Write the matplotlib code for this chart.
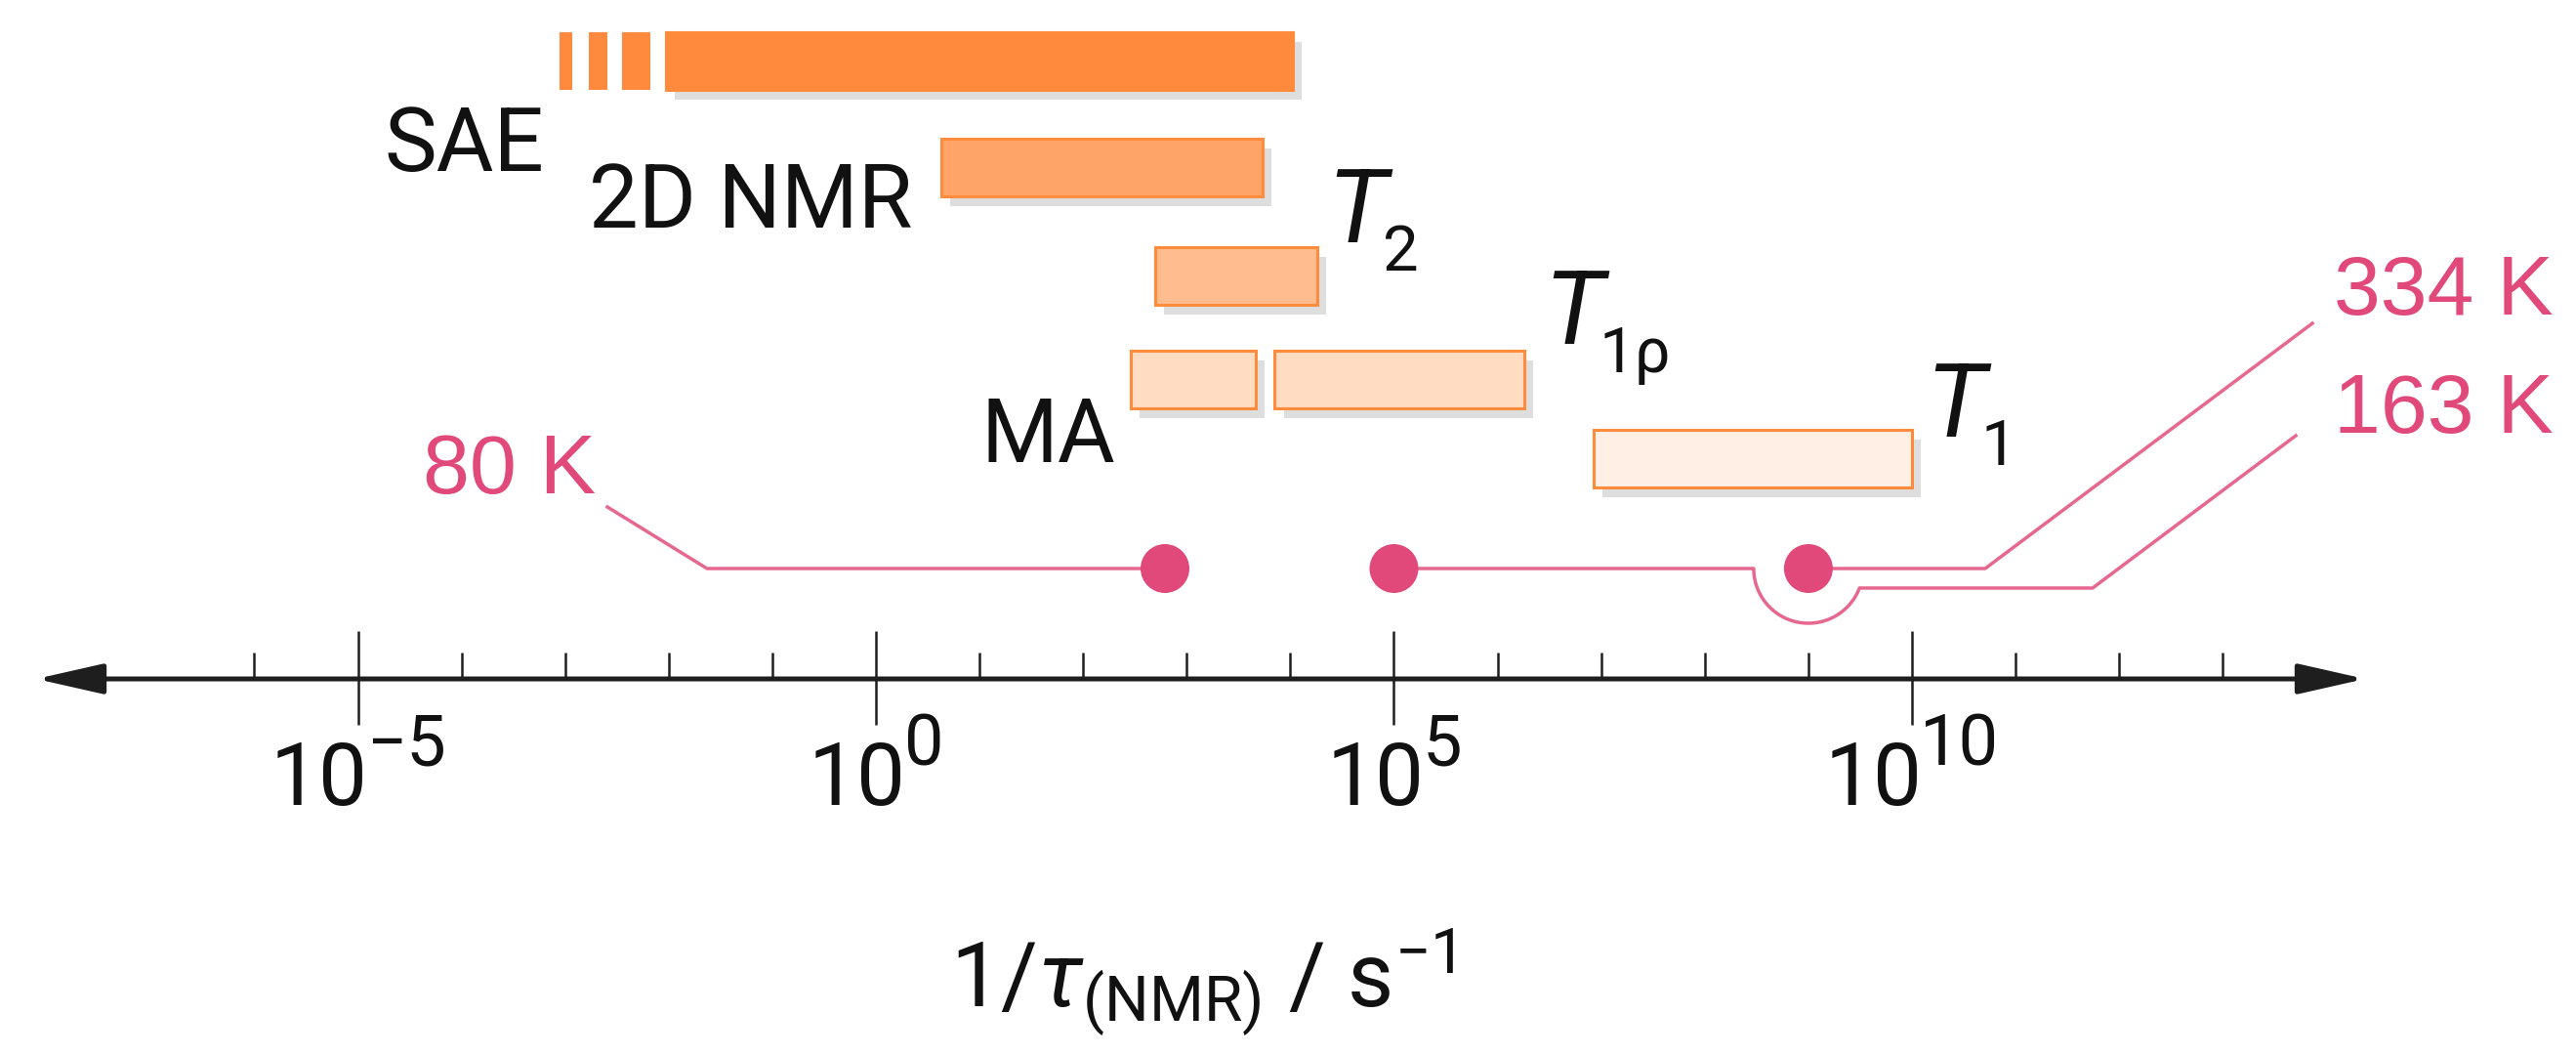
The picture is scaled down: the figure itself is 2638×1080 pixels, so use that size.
import matplotlib
matplotlib.use('Agg')
import matplotlib.pyplot as plt
import matplotlib.patheffects as pe
import numpy as np

plt.rcParams['font.family'] = ['Roboto', 'DejaVu Sans']
plt.rcParams['mathtext.fontset'] = 'custom'
plt.rcParams['mathtext.rm'] = 'Roboto'
plt.rcParams['mathtext.it'] = 'Roboto:italic'
plt.rcParams['mathtext.bf'] = 'Roboto:bold'

# accessible rate windows, log10(1/tau / s^-1)
methods = ['SAE', 'SAE', 'SAE', 'SAE', '2D NMR', 'T2', 'MA', 'MA', 'T1']
lo_exp = [-3.05, -2.77, -2.45, -2.03, 0.63, 2.70, 2.46, 3.85, 6.93]
hi_exp = [-2.93, -2.59, -2.18, 4.02, 3.73, 4.26, 3.67, 6.26, 10.0]
dashed = [True, True, True, False, False, False, False, False, False]

# exchange rate at each temperature, log10
temps = ['80 K', '163 K', '334 K']
rate_exp = [2.79, 5.0, 9.0]

major_exp = [-5, 0, 5, 10]
minor_exp = [-6, -4, -3, -2, -1, 1, 2, 3, 4, 6, 7, 8, 9, 11, 12, 13]

# ---- layout (pixel rows, px along the axis) ----
W, H = 2638, 1080
X0 = 897        # px of 10^0
PX_DEC = 106.1  # px per decade
def dec(px):
    return (px - X0) / PX_DEC

row_y = {'SAE': 62, '2D NMR': 171.5, 'T2': 282, 'MA': 388.5, 'T1': 469}
bar_h = 59
fills = {'SAE': '#ff8a3d', '2D NMR': '#ffa468', 'T2': '#ffbc8e',
         'MA': '#ffdcc2', 'T1': '#ffefe5'}
edge = '#ff8c3c'
pink = '#e0497a'
pink_line = '#e6688f'
ink = '#111111'
axis_col = '#1e1e1e'
axis_y = 695
dot_y = 582

fig = plt.figure(figsize=(W / 100, H / 100), dpi=100)
ax = fig.add_axes([0, 0, 1, 1])
ax.set_xscale('log')
ax.set_xlim(10 ** dec(0), 10 ** dec(W))
ax.set_ylim(H, 0)
ax.axis('off')

# bars
shadow = [pe.SimplePatchShadow(offset=(6.5, -7.2), shadow_rgbFace='#dedede', alpha=1.0), pe.Normal()]
for m, lo, hi, d in zip(methods, lo_exp, hi_exp, dashed):
    b = ax.barh(row_y[m], 10 ** hi - 10 ** lo, left=10 ** lo, height=bar_h,
                color=fills[m], edgecolor=fills[m] if d else edge,
                linewidth=0 if d else 2.2, zorder=3)
    if not d:
        b[0].set_path_effects(shadow)

# axis with arrows
ax.annotate('', xy=(10 ** dec(2422), axis_y), xytext=(10 ** dec(37), axis_y),
            arrowprops=dict(arrowstyle='<|-|>,head_length=4.2,head_width=0.95',
                            mutation_scale=10, lw=3.6, color=axis_col,
                            shrinkA=0, shrinkB=0), zorder=4)
ax.vlines([10.0 ** e for e in major_exp], 646, 742, colors=axis_col, lw=1.8, zorder=4)
ax.vlines([10.0 ** e for e in minor_exp], 668, axis_y, colors=axis_col, lw=1.8, zorder=4)

# tick labels 10^n, centred on the tick
base_y, sup_rise, gap = 824, 40, -2
fig.canvas.draw()
r = fig.canvas.get_renderer()
for e in major_exp:
    base = ax.annotate('10', (10.0 ** e, base_y), xytext=(0, 0), textcoords='offset pixels',
                       ha='left', va='baseline', fontsize=64, color=ink)
    sup = ax.annotate(str(e).replace('-', '\u2212'), (10.0 ** e, base_y), xytext=(0, sup_rise),
                      textcoords='offset pixels', ha='left', va='baseline',
                      fontsize=52, color=ink)
    w1 = base.get_window_extent(r).width
    w2 = sup.get_window_extent(r).width
    left = -(w1 + gap + w2) / 2
    base.xyann = (left, 0)
    sup.xyann = (left + w1 + gap, sup_rise)

ax.text(10 ** dec(1231), 1030, r'$1/\tau_{\mathrm{(NMR)}}$ / s$^{-1}$',
        ha='center', va='baseline', fontsize=66, color=ink)

# method labels
for name, px, py in [('SAE', 557, 175), ('2D NMR', 935, 233), ('MA', 1142, 473)]:
    ax.text(10 ** dec(px), py, name, ha='right', va='baseline', fontsize=65, color=ink)
for sub, px, py in [('2', 1359, 248), ('1\u03c1', 1581, 352), ('1', 1972, 447)]:
    ax.text(10 ** dec(px), py, 'T', ha='left', va='baseline', fontsize=76,
            style='italic', color=ink)
    ax.annotate(sub, (10 ** dec(px), py), xytext=(57, -29), textcoords='offset pixels',
                ha='left', va='baseline', fontsize=47, color=ink)

# temperature markers and leader lines
ax.scatter([10.0 ** e for e in rate_exp], [dot_y] * 3, s=36 ** 2, color=pink,
           edgecolors='none', zorder=6)

lw_lead = 2.5
# 80 K
ax.plot(10 ** np.array([rate_exp[0], dec(724), dec(622)]), [dot_y, dot_y, 519],
        color=pink_line, lw=lw_lead, zorder=5)
# 334 K
ax.plot(10 ** np.array([rate_exp[2], dec(2033), dec(2368)]), [dot_y, dot_y, 331],
        color=pink_line, lw=lw_lead, zorder=5)
# 163 K: passes under the 334 K dot
r_dec, r_px = 56 / PX_DEC, 56
th = np.radians(np.linspace(180, 20.9, 60))
arc_x = rate_exp[2] + r_dec * np.cos(th)
arc_y = dot_y + r_px * np.sin(th)
low_y = arc_y[-1]
xs = np.concatenate([[rate_exp[1]], arc_x, [dec(2143), dec(2351)]])
ys = np.concatenate([[dot_y], arc_y, [low_y, 446]])
ax.plot(10 ** xs, ys, color=pink_line, lw=lw_lead, zorder=5)

pink_font = ['Liberation Sans', 'DejaVu Sans']
for t, px, py in [('80 K', 433, 505), ('163 K', 2390, 443), ('334 K', 2390, 322)]:
    ax.text(10 ** dec(px), py, t, ha='left', va='baseline', fontsize=62,
            color=pink, family=pink_font)

fig.savefig('out.png', dpi=100, facecolor='white')
